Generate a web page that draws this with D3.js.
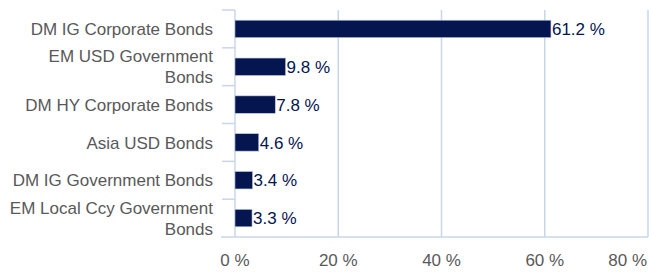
<!DOCTYPE html>
<html>
<head>
<meta charset="utf-8">
<script src="https://cdn.jsdelivr.net/npm/d3@7"></script>
<style>
  body { margin: 0; background: #fff; }
  svg { display: block; font-family: "Liberation Sans", Arial, sans-serif; }
</style>
</head>
<body>
<svg width="649" height="273"></svg>
<script>
const categories = [
    "DM IG Corporate Bonds",
    "EM USD Government Bonds",
    "DM HY Corporate Bonds",
    "Asia USD Bonds",
    "DM IG Government Bonds",
    "EM Local Ccy Government Bonds"
];
const values = [61.2, 9.8, 7.8, 4.6, 3.4, 3.3];
const xTicks = [0, 20, 40, 60, 80];

const data = categories.map((c, i) => ({ name: c, value: values[i] }));

const svg = d3.select("svg");
const margin = { top: 10, right: 1, bottom: 36, left: 235 };
const width = 649 - margin.left - margin.right;
const height = 273 - margin.top - margin.bottom;

const gridColor = "#c9d6e8";
const labelColor = "#595959";
const barColor = "#04154f";

const chart = svg.append("g")
    .attr("transform", `translate(${margin.left},${margin.top})`);

// SCALE
const xScale = d3.scaleLinear().domain([0, 80]).range([0, width]);
const yScale = d3.scaleBand().domain(categories).range([0, height])
    .paddingInner(0.54).paddingOuter(0.27);

// GRID
chart.append("g")
    .selectAll("line")
    .data(xTicks.slice(1))
    .join("line")
    .attr("x1", d => xScale(d))
    .attr("x2", d => xScale(d))
    .attr("y1", 0)
    .attr("y2", height)
    .attr("stroke", gridColor)
    .attr("stroke-width", 1.5);

// Y AXIS (line + category separators)
const step = height / categories.length;
chart.append("line")
    .attr("x1", 0).attr("x2", 0)
    .attr("y1", 0).attr("y2", height)
    .attr("stroke", gridColor).attr("stroke-width", 1.5);

chart.append("g")
    .selectAll("line")
    .data(d3.range(categories.length))
    .join("line")
    .attr("x1", -13).attr("x2", 0)
    .attr("y1", d => d * step).attr("y2", d => d * step)
    .attr("stroke", gridColor).attr("stroke-width", 1.5);

// X AXIS line
chart.append("line")
    .attr("x1", -14).attr("x2", width)
    .attr("y1", height).attr("y2", height)
    .attr("stroke", gridColor).attr("stroke-width", 1.5);

// X tick labels
chart.append("g")
    .selectAll("text")
    .data(xTicks)
    .join("text")
    .attr("x", (d, i) => i === xTicks.length - 1 ? width - 1 : xScale(d))
    .attr("y", height + 23)
    .attr("dy", "0.35em")
    .attr("text-anchor", (d, i) => i === xTicks.length - 1 ? "end" : "middle")
    .attr("font-size", "17px")
    .attr("fill", labelColor)
    .text(d => `${d} %`);

// BARS
chart.append("g")
    .selectAll("rect")
    .data(data)
    .join("rect")
    .attr("x", 0)
    .attr("y", d => yScale(d.name))
    .attr("width", d => xScale(d.value))
    .attr("height", yScale.bandwidth())
    .attr("fill", barColor)
    .attr("stroke", "#b8c6dc")
    .attr("stroke-width", 0.6);

// VALUE LABELS
chart.append("g")
    .selectAll("text")
    .data(data)
    .join("text")
    .attr("x", d => xScale(d.value) + 1)
    .attr("y", d => yScale(d.name) + yScale.bandwidth() / 2)
    .attr("dy", "0.36em")
    .attr("font-size", "17px")
    .attr("fill", barColor)
    .text(d => `${d.value.toFixed(1)} %`);

// CATEGORY LABELS (wrapped)
const maxW = 205;
const lineH = 21;
const catLabels = chart.append("g")
    .selectAll("text")
    .data(data)
    .join("text")
    .attr("text-anchor", "end")
    .attr("font-size", "17px")
    .attr("fill", labelColor);

catLabels.each(function (d) {
    const t = d3.select(this);
    const words = d.name.split(" ");
    const lines = [];
    let cur = [];
    const probe = t.append("tspan");
    words.forEach(w => {
        const test = cur.concat(w).join(" ");
        probe.text(test);
        if (probe.node().getComputedTextLength() > maxW && cur.length) {
            lines.push(cur.join(" "));
            cur = [w];
        } else {
            cur.push(w);
        }
    });
    lines.push(cur.join(" "));
    probe.remove();
    const cy = yScale(d.name) + yScale.bandwidth() / 2;
    const y0 = cy - (lines.length - 1) * lineH / 2;
    lines.forEach((l, i) => {
        t.append("tspan")
            .attr("x", -22)
            .attr("y", y0 + i * lineH)
            .attr("dy", "0.36em")
            .text(l);
    });
});
</script>
</body>
</html>
